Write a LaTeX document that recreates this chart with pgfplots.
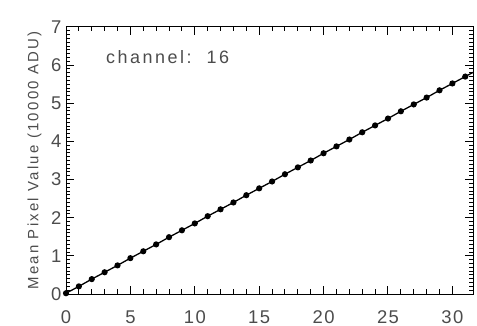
\documentclass[border=0pt]{standalone}
\usepackage{fontspec}
\setmainfont{Liberation Sans}
\usepackage{pgfplots}
\pgfplotsset{compat=1.18}
\definecolor{txt}{gray}{0.3}
\begin{document}
\begin{tikzpicture}
\begin{axis}[
  name=ax,
  scale only axis,
  width=407bp, height=267bp,
  xmin=0, xmax=31.6, ymin=0, ymax=7,
  xtick={0,5,10,15,20,25,30},
  ytick={0,1,2,3,4,5,6,7},
  minor x tick num=4,
  minor y tick num=9,
  tick align=inside,
  major tick length=8bp,
  minor tick length=4.5bp,
  axis line style={line width=1pt},
  every tick/.style={black, line width=1pt},
  /pgf/number format/assume math mode=true,
  tick label style={font=\fontsize{18.5}{18.5}\selectfont\addfontfeature{LetterSpace=8}, text=txt},
  xticklabel style={yshift=-13bp},
  yticklabel style={xshift=-1bp},
  ylabel={Mean Pixel Value (10000 ADU)},
  ylabel style={font=\fontsize{15}{15}\selectfont\addfontfeature{LetterSpace=15}, text=txt, yshift=3bp},
  clip=false,
]
\addplot[black, line width=1.3pt, mark=*, mark size=2.4bp, mark options={solid}]
coordinates {
(0,0.02) (1,0.20) (2,0.39) (3,0.57) (4,0.75) (5,0.94) (6,1.12) (7,1.30) (8,1.49)
(9,1.67) (10,1.85) (11,2.04) (12,2.22) (13,2.40) (14,2.59) (15,2.77) (16,2.95)
(17,3.14) (18,3.32) (19,3.50) (20,3.69) (21,3.87) (22,4.05) (23,4.24) (24,4.42)
(25,4.60) (26,4.79) (27,4.97) (28,5.15) (29,5.34) (30,5.52) (31,5.70)
};
\addplot[black, line width=1.3pt] coordinates {(31,5.70) (31.6,5.81)};
\node[anchor=west, font=\fontsize{18}{18}\selectfont\addfontfeature{LetterSpace=14}, text=txt] at (axis cs:2.85,6.2) {channel:\ \ 16};
\end{axis}
\pgfresetboundingbox
\path ([shift={(-66bp,-32bp)}]ax.south west) rectangle ([shift={(4bp,27bp)}]ax.north east);
\end{tikzpicture}
\end{document}
